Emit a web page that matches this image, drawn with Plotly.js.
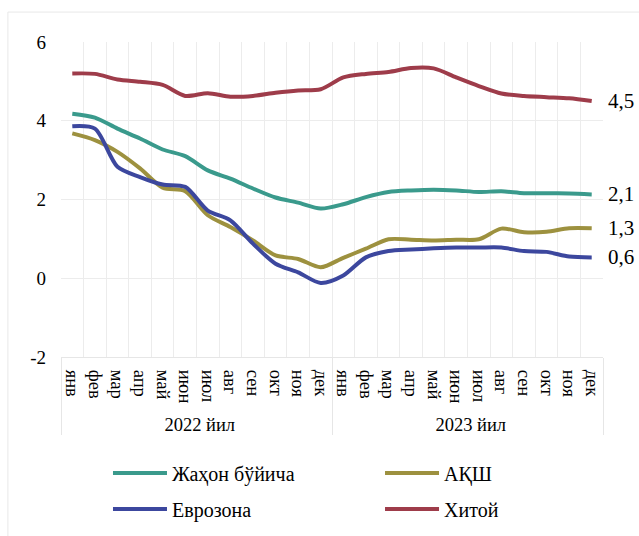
<!DOCTYPE html>
<html>
<head>
<meta charset="utf-8">
<script src="https://cdn.plot.ly/plotly-3.0.1.min.js"></script>
<style>html,body{margin:0;padding:0;background:#fff;}#chart{width:639px;height:536px;}</style>
</head>
<body>
<div id="chart"></div>
<script>
const months = ['янв','фев','мар','апр','май','июн','июл','авг','сен','окт','ноя','дек'];
const years = ['2022 йил','2023 йил'];
const seriesNames = ['Жаҳон бўйича','АҚШ','Еврозона','Хитой'];
const world = [4.18,4.08,3.80,3.55,3.27,3.10,2.74,2.53,2.28,2.05,1.92,1.77, 1.88,2.06,2.19,2.23,2.25,2.23,2.19,2.21,2.16,2.16,2.15,2.13];
const usa   = [3.68,3.51,3.21,2.79,2.30,2.21,1.60,1.30,0.96,0.58,0.49,0.28, 0.52,0.75,0.99,0.98,0.96,0.98,0.99,1.26,1.17,1.18,1.27,1.27];
const euro  = [3.86,3.80,2.83,2.57,2.38,2.32,1.72,1.47,0.88,0.37,0.15,-0.12, 0.07,0.53,0.69,0.73,0.76,0.78,0.78,0.78,0.69,0.67,0.55,0.53];
const china = [5.20,5.19,5.05,4.99,4.91,4.63,4.70,4.61,4.63,4.71,4.77,4.80, 5.10,5.19,5.24,5.34,5.33,5.10,4.88,4.69,4.63,4.60,4.57,4.50];
const endLabels = ['2,1','1,3','0,6','4,5'];
const yTickVals = [-2, 0, 2, 4, 6];
const yTickText = ['-2', '0', '2', '4', '6'];
const colors = ['#3a9a8c','#9d913f','#3c479e','#9e3c4a'];

const xYear = [], xMonth = [];
years.forEach(y => months.forEach(m => { xYear.push(y); xMonth.push(m); }));

const FONT = 'Liberation Serif';
const legendIds = ['legend','legend2','legend3','legend4'];
const allSeries = [world, usa, euro, china];
const data = allSeries.map((vals, k) => ({
  type: 'scatter',
  mode: 'lines',
  name: seriesNames[k],
  legend: legendIds[k],
  x: [xYear, xMonth],
  y: vals,
  line: {color: colors[k], width: 4, shape: 'spline', smoothing: 0.8},
  hoverinfo: 'x+y'
}));

// end-of-line value labels next to the last point (last category centre, last value)
const annotations = allSeries.map((vals, k) => ({
  xref: 'paper', yref: 'y', x: (vals.length - 0.5) / vals.length, y: vals[vals.length - 1],
  text: endLabels[k], showarrow: false, xanchor: 'left', yanchor: 'middle', xshift: 14,
  font: {family: FONT, size: 21, color: '#000'}
}));

// legend placement: rows at y=473/509 px, columns at x=108/380 px
const legPos = [[0.0867, -0.368], [0.5886, -0.368], [0.0867, -0.4825], [0.5886, -0.4825]];
const mkLegend = (p) => ({
  x: p[0], xanchor: 'left', y: p[1], yanchor: 'middle',
  itemwidth: 54, bgcolor: 'rgba(0,0,0,0)',
  font: {family: FONT, size: 20, color: '#000'}
});

const layout = {
  width: 639, height: 536,
  margin: {l: 61, r: 36, t: 42, b: 179, autoexpand: false},
  paper_bgcolor: '#fff', plot_bgcolor: '#fff',
  font: {family: FONT, size: 19, color: '#000'},
  showlegend: true,
  legend: mkLegend(legPos[0]),
  legend2: mkLegend(legPos[1]),
  legend3: mkLegend(legPos[2]),
  legend4: mkLegend(legPos[3]),
  annotations: annotations,
  xaxis: {
    type: 'multicategory',
    range: [-0.5, xMonth.length - 0.5],
    tickmode: 'linear', tick0: 0, dtick: 1,
    tickangle: 90,
    automargin: false,
    showgrid: true, gridcolor: '#ececec', gridwidth: 1,
    showline: true, linecolor: '#e6e6e6', linewidth: 1,
    showdividers: true, dividercolor: '#e6e6e6', dividerwidth: 1,
    ticks: '',
    ticklabelstandoff: 8,
    tickfont: {family: FONT, size: 18.5, color: '#000'},
    zeroline: false
  },
  yaxis: {
    range: [-2, 6], tickmode: 'array', tickvals: yTickVals, ticktext: yTickText,
    automargin: false,
    showgrid: true, gridcolor: '#ececec', gridwidth: 1,
    zeroline: false, showline: false, ticks: '',
    ticklabelstandoff: 14,
    tickfont: {family: FONT, size: 19, color: '#000'}
  },
  shapes: [{
    type: 'rect', xref: 'paper', yref: 'paper',
    x0: -0.098, x1: 1.3, y0: -1, y1: 1.095,
    line: {color: '#e8e8e8', width: 1}, fillcolor: 'rgba(0,0,0,0)', layer: 'below'
  }]
};

Plotly.newPlot('chart', data, layout, {displayModeBar: false, staticPlot: true});
</script>
</body>
</html>
